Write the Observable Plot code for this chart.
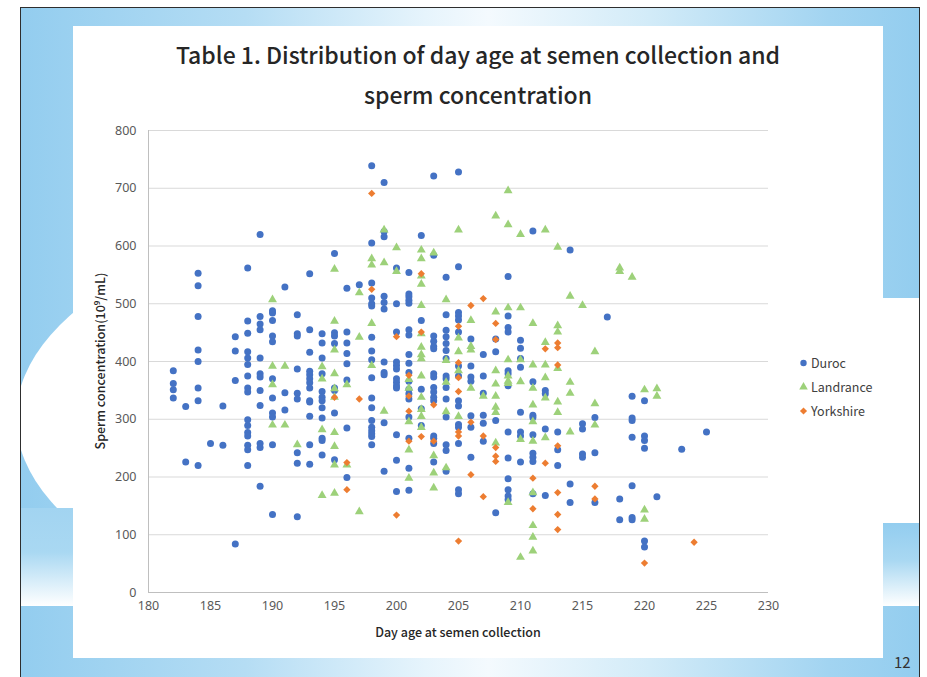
<!DOCTYPE html>
<html>
<head>
<meta charset="utf-8">
<script src="https://cdn.jsdelivr.net/npm/d3@7"></script>
<script src="https://cdn.jsdelivr.net/npm/@observablehq/plot@0.6"></script>
<style>
  body { margin: 0; background: #fff; }
  #page { position: relative; width: 927px; height: 677px; overflow: hidden; background: #fff; font-family: "Noto Sans CJK TC", "Noto Sans", sans-serif; }
  #frame { position: absolute; left: 20px; top: 7px; width: 900px; height: 690px; border: 1.5px solid #2e2e2e; box-sizing: border-box;
    background: linear-gradient(90deg, #93cdef 0%, #b5ddf4 25%, #e6f4fc 45%, #f4fafe 52%, #d2ebf8 70%, #a2d4f1 90%, #93cdef 100%); overflow: hidden; }
  #ellipse { position: absolute; left: -5px; top: 193px; width: 910px; height: 434px; border-radius: 50%; background: #fff; }
  #leftband { position: absolute; left: 0px; top: 500px; width: 60px; height: 98px; background: linear-gradient(180deg, #a2d4f1 0%, #a9d8f2 45%, #ffffff 100%); }
  #rightwhite { position: absolute; left: 860px; top: 290px; width: 60px; height: 225px; background: #fff; }
  #rightband { position: absolute; left: 860px; top: 515px; width: 60px; height: 83px; background: linear-gradient(180deg, #93cdef 0%, #a9d8f2 45%, #ffffff 100%); }
  #panel { position: absolute; left: 73px; top: 26px; width: 810px; height: 632px; background: #fff; }
  #chart { position: absolute; left: 0; top: 0; }
  .title { position: absolute; left: 73px; width: 810px; text-align: center; font-size: 23px; font-weight: 500; color: #262626; line-height: 1; white-space: nowrap; }
  .axt { position: absolute; font-size: 12.5px; color: #262626; font-weight: 500; white-space: nowrap; line-height: 1; }
  .leg { position: absolute; left: 799px; font-size: 12.5px; color: #404040; line-height: 1; white-space: nowrap; display: flex; align-items: center; }
  .leg svg { margin-right: 3px; }
  #pagenum { position: absolute; left: 894px; top: 654px; font-size: 15px; color: #333; line-height: 1; }
</style>
</head>
<body>
<div id="page">
  <div id="frame"><div id="ellipse"></div><div id="leftband"></div><div id="rightwhite"></div><div id="rightband"></div></div>
  <div id="panel"></div>
  <div id="chart"></div>
  <div class="title" style="top:43px">Table 1. Distribution of day age at semen collection and</div>
  <div class="title" style="top:83px">sperm concentration</div>
  <div class="axt" id="xtitle" style="left:458px; top:626px; transform: translateX(-50%);">Day age at semen collection</div>
  <div class="axt" id="ytitle" style="left:100px; top:361px; transform: translate(-50%,-50%) rotate(-90deg);">Sperm concentration(10⁹/mL)</div>
  <div id="legend"></div>
  <div id="pagenum">12</div>
</div>
<script>
const seriesNames = ["Duroc", "Landrance", "Yorkshire"];
const xTicks = [180, 185, 190, 195, 200, 205, 210, 215, 220, 225, 230];
const yTicks = [0, 100, 200, 300, 400, 500, 600, 700, 800];

const duroc = [
  [182,384],[182,362],[182,351],[182,337],
  [183,322],[183,226],
  [184,553],[184,531],[184,478],[184,420],[184,400],[184,354],[184,332],[184,220],
  [185,258],
  [186,323],[186,255],
  [187,443],[187,418],[187,367],[187,84],
  [188,562],[188,470],[188,449],[188,417],[188,406],[188,395],[188,375],[188,354],[188,347],[188,299],[188,289],[188,277],[188,271],[188,255],[188,247],[188,220],
  [189,620],[189,478],[189,465],[189,455],[189,406],[189,379],[189,373],[189,350],[189,324],[189,258],[189,251],[189,184],
  [190,488],[190,484],[190,471],[190,444],[190,434],[190,370],[190,337],[190,311],[190,304],[190,256],[190,135],
  [191,529],[191,346],[191,316],
  [192,481],[192,448],[192,444],[192,387],[192,345],[192,335],[192,242],[192,224],[192,131],
  [193,552],[193,455],[193,416],[193,383],[193,377],[193,370],[193,363],[193,354],[193,332],[193,330],[193,305],[193,256],[193,222],
  [194,448],[194,432],[194,406],[194,379],[194,348],[194,338],[194,332],[194,320],[194,302],[194,267],[194,263],[194,238],
  [195,587],[195,450],[195,444],[195,431],[195,354],[195,350],[195,311],[195,230],
  [196,527],[196,451],[196,432],[196,414],[196,396],[196,368],[196,285],[196,199],
  [197,533],
  [198,739],[198,605],[198,536],[198,510],[198,500],[198,496],[198,442],[198,418],[198,403],[198,372],[198,337],[198,320],[198,298],[198,286],[198,280],[198,275],[198,270],[198,256],
  [199,710],[199,625],[199,616],[199,513],[199,502],[199,491],[199,399],[199,381],[199,377],[199,294],[199,210],
  [200,562],[200,500],[200,451],[200,399],[200,393],[200,387],[200,370],[200,364],[200,358],[200,354],[200,273],[200,229],[200,175],
  [201,554],[201,517],[201,512],[201,506],[201,501],[201,455],[201,446],[201,412],[201,397],[201,381],[201,366],[201,352],[201,344],[201,335],[201,304],[201,267],[201,215],[201,177],
  [202,618],[202,471],[202,352],[202,318],[202,289],
  [203,721],[203,584],[203,444],[203,435],[203,426],[203,422],[203,379],[203,373],[203,355],[203,347],[203,338],[203,332],[203,271],[203,267],[203,258],[203,226],
  [204,546],[204,481],[204,454],[204,443],[204,431],[204,419],[204,405],[204,375],[204,370],[204,355],[204,335],[204,304],[204,256],[204,246],[204,210],
  [205,728],[205,564],[205,485],[205,479],[205,472],[205,451],[205,392],[205,375],[205,332],[205,323],[205,291],[205,286],[205,258],[205,178],[205,171],
  [206,439],[206,392],[206,373],[206,366],[206,306],[206,286],[206,234],
  [207,412],[207,375],[207,345],[207,307],[207,293],[207,262],
  [208,439],[208,417],[208,298],[208,138],
  [209,547],[209,479],[209,459],[209,451],[209,384],[209,379],[209,358],[209,278],[209,233],[209,197],[209,178],[209,167],[209,161],
  [210,437],[210,423],[210,405],[210,390],[210,312],[210,278],[210,271],[210,226],
  [211,626],[211,365],[211,307],[211,303],[211,273],[211,241],[211,234],[211,227],[211,171],
  [212,350],[212,344],[212,283],[212,168],
  [213,278],[213,247],[213,220],
  [214,593],[214,188],[214,156],
  [215,292],[215,283],[215,240],[215,234],
  [216,303],[216,242],[216,156],
  [217,477],
  [218,162],[218,126],
  [219,340],[219,302],[219,298],[219,269],[219,185],[219,130],[219,126],
  [220,332],[220,271],[220,263],[220,250],[220,89],[220,79],
  [221,166],
  [223,248],
  [225,278]
];

const landrance = [
  [190,507],[190,392],[190,360],[190,290],
  [191,392],[191,290],
  [192,256],
  [194,391],[194,370],[194,282],[194,168],
  [195,560],[195,470],[195,420],[195,379],[195,353],[195,338],[195,277],[195,253],[195,221],[195,172],
  [196,360],[196,221],
  [197,519],[197,442],[197,140],
  [198,578],[198,567],[198,466],[198,393],
  [199,628],[199,571],[199,314],
  [200,597],[200,556],
  [201,369],[201,354],[201,296],[201,247],[201,198],
  [202,593],[202,578],[202,548],[202,534],[202,497],[202,448],[202,425],[202,412],[202,405],[202,375],[202,338],[202,317],[202,305],[202,286],
  [203,588],[203,237],[203,207],[203,181],
  [204,507],[204,402],[204,364],[204,313],[204,216],
  [205,628],[205,441],[205,417],[205,384],[205,305],
  [206,471],[206,426],[206,420],[206,354],
  [207,340],
  [208,652],[208,486],[208,384],[208,361],[208,340],[208,321],[208,312],[208,259],
  [209,696],[209,637],[209,493],[209,403],[209,375],[209,366],[209,362],[209,156],
  [210,620],[210,493],[210,403],[210,365],[210,265],[210,61],
  [211,466],[211,394],[211,354],[211,325],[211,296],[211,262],[211,173],[211,116],[211,96],[211,72],
  [212,628],[212,433],[212,394],[212,372],[212,337],[212,268],
  [213,598],[213,462],[213,451],[213,388],[213,330],[213,312],
  [214,513],[214,364],[214,345],[214,278],
  [215,497],
  [216,417],[216,327],[216,290],
  [218,562],[218,556],
  [219,546],
  [220,351],[220,143],[220,127],
  [221,353],[221,340]
];

const yorkshire = [
  [195,338],
  [196,225],[196,178],
  [197,335],
  [198,691],[198,525],
  [200,443],[200,134],
  [201,376],[201,340],[201,314],[201,262],
  [202,552],[202,451],[202,270],
  [203,325],[203,262],
  [205,461],[205,398],[205,372],[205,348],[205,278],[205,271],[205,89],
  [206,497],[206,295],[206,204],
  [207,509],[207,271],[207,166],
  [208,466],[208,438],[208,251],[208,236],[208,227],
  [211,198],[211,145],
  [212,422],[212,224],
  [213,432],[213,424],[213,394],[213,254],[213,173],[213,135],[213,109],
  [216,184],[216,162],
  [220,51],
  [224,87]
];

const colors = ["#4472c4", "#9dd17a", "#ed7d31"];
const symbols = ["circle", "triangle", "diamond2"];
const radii = [3.5, 3.3, 3.3];
const seriesData = [duroc, landrance, yorkshire];

const chart = Plot.plot({
  width: 927,
  height: 677,
  marginLeft: 148,
  marginRight: 159,
  marginTop: 130,
  marginBottom: 85,
  style: { background: "transparent", fontFamily: "'Noto Sans', sans-serif", fontSize: "12.5px", color: "#595959" },
  x: { domain: [180, 230], ticks: xTicks, tickSize: 0, tickPadding: 9, label: null },
  y: { domain: [0, 800], ticks: yTicks, tickSize: 0, tickPadding: 12, label: null },
  marks: [
    Plot.ruleY(yTicks.filter(d => d > 0), { stroke: "#d9d9d9", strokeWidth: 1 }),
    Plot.ruleY([0], { stroke: "#bfbfbf", strokeWidth: 1 }),
    Plot.ruleX([180], { stroke: "#bfbfbf", strokeWidth: 1 }),
    ...seriesData.map((data, i) => Plot.dot(data, {
      x: d => d[0], y: d => d[1], r: radii[i], symbol: symbols[i], fill: colors[i], stroke: "none"
    }))
  ]
});
document.getElementById("chart").appendChild(chart);

const symbolTypes = { circle: d3.symbolCircle, triangle: d3.symbolTriangle, diamond2: d3.symbolDiamond2 };
const legend = document.getElementById("legend");
const legendTop = [363, 387, 411];
seriesNames.forEach((name, i) => {
  const item = document.createElement("div");
  item.className = "leg";
  item.style.top = (legendTop[i] - 8) + "px";
  const size = 9;
  const sym = d3.symbol(symbolTypes[symbols[i]], Math.PI * 3.2 * 3.2)();
  item.innerHTML = `<svg width="${size}" height="16"><path d="${sym}" transform="translate(${size/2},8)" fill="${colors[i]}"></path></svg><span>${name}</span>`;
  legend.appendChild(item);
});
</script>
</body>
</html>
